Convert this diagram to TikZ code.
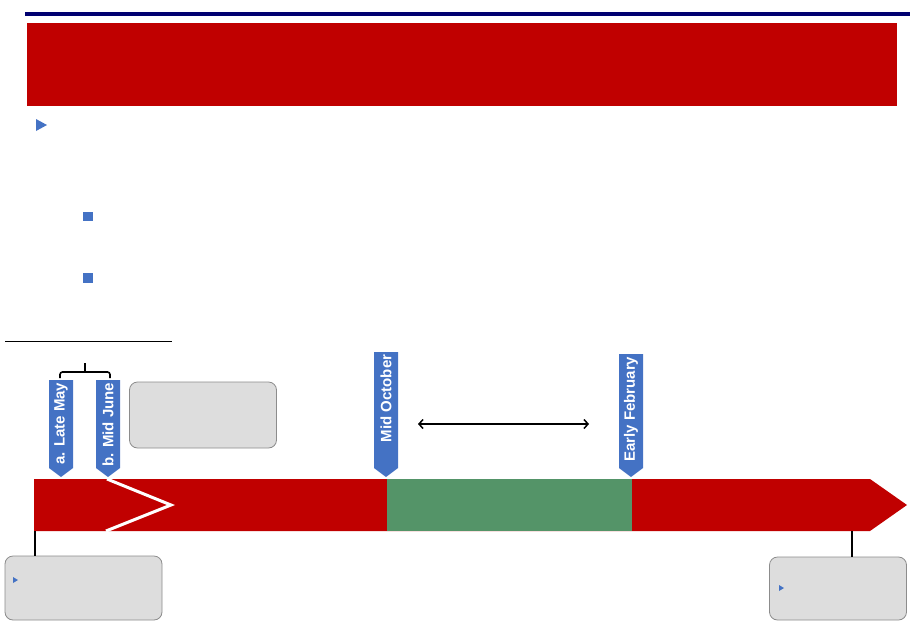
\documentclass[tikz,border=0pt]{standalone}
\usepackage{fontspec}
\setmainfont{Liberation Sans}
\usetikzlibrary{arrows.meta}
\definecolor{barred}{RGB}{192,0,0}
\definecolor{bargreen}{RGB}{84,148,104}
\definecolor{markblue}{RGB}{68,114,196}
\definecolor{navyline}{RGB}{0,0,112}
\definecolor{boxgray}{RGB}{221,221,221}
\definecolor{boxline}{RGB}{140,140,140}

\begin{document}
\begin{tikzpicture}[x = 1pt, y = -1pt,
    marklabel/.style = {rotate = 90, anchor = east, inner sep = 2.5pt,
      text = white, font = \bfseries\fontsize{15}{15}\selectfont},
    graybox/.style = {draw = boxline, fill = boxgray, rounded corners = 8pt,
      line width = 0.8pt},
    stem/.style = {line width = 1.6pt}]
    \useasboundingbox (0,0) rectangle (916,627);
    % header
    \fill [navyline] (25,12) rectangle (910,16);
    \fill [barred] (27,23) rectangle (897,106);
    \fill [markblue] (36,119) -- (47,125) -- (36,131) -- cycle;
    \fill [markblue] (83,212) rectangle (93,221);
    \fill [markblue] (83,273) rectangle (93,283);
    \draw [line width = 1pt] (5,341) -- (172,341);
    % timeline bar
    \fill [barred] (34,479) -- (870,479) -- (907,505) -- (870,531)
      -- (34,531) -- cycle;
    \fill [bargreen] (387,479) rectangle (632,531);
    \draw [white, line width = 3pt] (107,479) -- (171,505) -- (106,531);
    % markers
    \foreach \name/\x/\top/\txt in {late/49/380/a. Late May,
        june/96/380/b. Mid June, oct/374/352/Mid October,
        feb/619/354/Early February}{
      \fill [markblue] (\x,\top) -- (\x+24,\top) -- (\x+24,468)
        -- (\x+12,477) -- (\x,468) -- cycle;
      \node [marklabel] (\name) at (\x+12,\top) {\txt};
    }
    % bracket over a and b
    \draw [line width = 1.6pt, rounded corners = 2.5pt]
      (60,378) -- (60,372) -- (110,372) -- (110,378);
    \draw [line width = 1.6pt] (85,372) -- (85,363);
    \node [graybox, minimum width = 147pt, minimum height = 66pt]
      (note) at (203,415) {};
    \coordinate (spanL) at (418,424);
    \coordinate (spanR) at (589,424);
    \draw [{Straight Barb[length=4pt,width=9pt]}-{Straight Barb[length=4pt,width=9pt]},
      line width = 1.5pt] (spanL) -- (spanR);
    % boxes under the bar
    \node [graybox, minimum width = 157pt, minimum height = 64pt]
      (startbox) at (83.5,588) {};
    \node [graybox, minimum width = 137pt, minimum height = 63pt]
      (endbox) at (838,588.5) {};
    \coordinate (barstart) at (35,531);
    \coordinate (barend) at (852,531);
    \draw [stem] (barstart) -- (barstart |- startbox.north);
    \draw [stem] (barend) -- (barend |- endbox.north);
    \fill [markblue] (13,577) -- (18,580) -- (13,583) -- cycle;
    \fill [markblue] (779,585) -- (784,588) -- (779,591) -- cycle;
  \end{tikzpicture}
\end{document}
